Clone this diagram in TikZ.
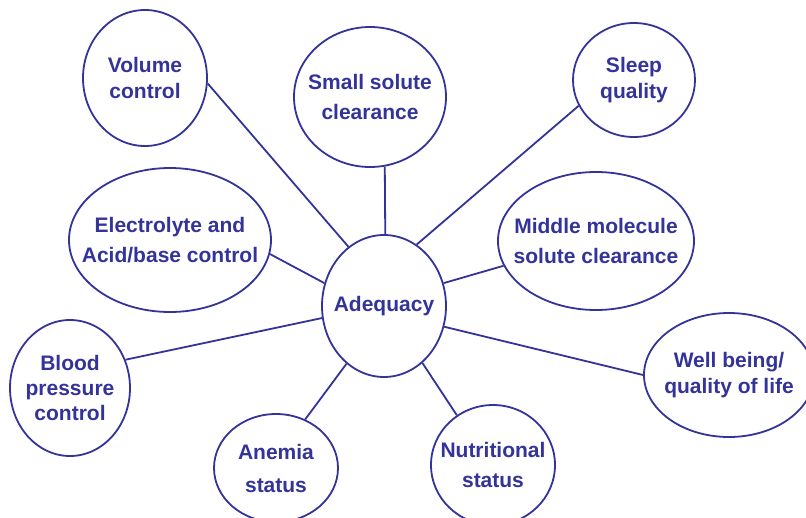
\documentclass[tikz,border=0pt]{standalone}
\usepackage{fontspec}
\setmainfont{Liberation Sans}
\usepackage{xcolor}
\usetikzlibrary{shapes.geometric}

\definecolor{inkblue}{RGB}{51,51,153}

\begin{document}
\begin{tikzpicture}[x=1pt,y=-1pt]
\tikzset{bubble/.style 2 args={ellipse,draw=inkblue,line width=1.8pt,fill=white,
  inner sep=-40pt,minimum width=#1,minimum height=#2,align=center}}
\tikzset{every node/.style={text=inkblue,font=\fontsize{21}{30}\selectfont\bfseries}}
\tikzset{spoke/.style={draw=inkblue,line width=1.8pt}}

\useasboundingbox (0,0) rectangle (806,517);

% the hub
\node[bubble={124pt}{142pt}] (ade) at (384,306) {Adequacy};

% the outer ring
\node[bubble={124pt}{136pt}] (vol)   at (145,78)  {Volume\\[-4pt]control};
\node[bubble={152pt}{140pt}] (small) at (370,97)  {Small solute\\clearance};
\node[bubble={122pt}{114pt}] (sleep) at (634,80)  {Sleep\\[-4pt]quality};
\node[bubble={202pt}{144pt}] (elec)  at (170,240) {Electrolyte and\\Acid/base control};
\node[bubble={196pt}{138pt}] (mid)   at (596,241) {Middle molecule\\solute clearance};
\node[bubble={120pt}{136pt}] (blood) at (70,388)  {Blood\\[-5pt]pressure\\[-5pt]control};
\node[bubble={170pt}{124pt}] (well)  at (729,375) {Well being/\\[-4pt]quality of life};
\node[bubble={124pt}{108pt}] (anem)  at (276,468) {Anemia\\[3pt]status};
\node[bubble={124pt}{120pt}] (nutr)  at (493,465) {Nutritional\\status};

% spokes
\draw[spoke] (ade.121) -- (vol.-5);
\draw[spoke] (ade.89)  -- (small.-78);
\draw[spoke] (ade.62)  -- (sleep.205);
\draw[spoke] (ade.159) -- (elec.-8);
\draw[spoke] (ade.21)  -- (mid.195);
\draw[spoke] (ade.191) -- (blood.27);
\draw[spoke] (ade.-19) -- (well.180);
\draw[spoke] (ade.237) -- (anem.59);
\draw[spoke] (ade.-56) -- (nutr.126);

\end{tikzpicture}
\end{document}
